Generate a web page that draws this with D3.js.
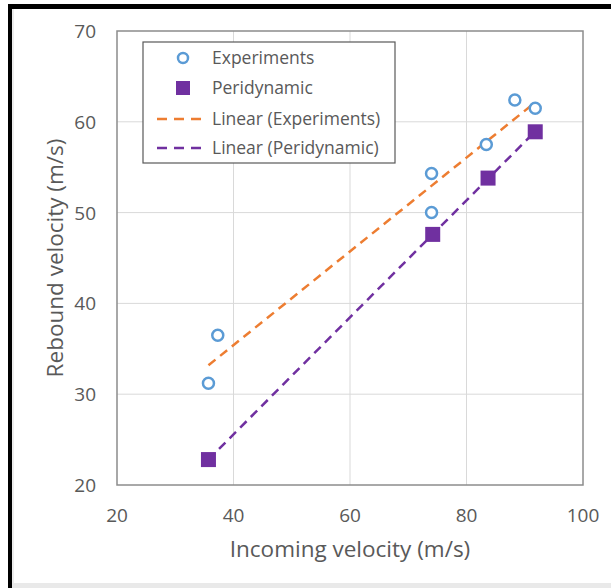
<!DOCTYPE html>
<meta charset="utf-8">
<style>
body {
  margin: 0;
  background: #fff;
}

svg text {
  font-family: 'Open Sans', sans-serif;
  fill: #595959;
}

.grid line {
  stroke: #d9d9d9;
  stroke-width: 1px;
}

.frame {
  fill: none;
  stroke: #8c8c8c;
  stroke-width: 1.5px;
}
</style>
<html>
  <body>
    <svg width="611" height="588"></svg>
  </body>
</html>
<script src="https://cdn.jsdelivr.net/npm/d3@7"></script>
<script>

// values
var expIncoming = [35.7, 37.3, 74.0, 74.0, 83.4, 88.3, 91.8];
var expRebound  = [31.2, 36.5, 54.3, 50.0, 57.5, 62.4, 61.5];
var periIncoming = [35.7, 74.2, 83.7, 91.8];
var periRebound  = [22.8, 47.6, 53.8, 58.9];
var xTicks = [20, 40, 60, 80, 100];
var yTicks = [20, 30, 40, 50, 60, 70];
var legendLabels = ["Experiments", "Peridynamic", "Linear (Experiments)", "Linear (Peridynamic)"];

(function() {
  var svg = d3.select("svg"),
      width = +svg.attr("width"),
      height = +svg.attr("height");

  // page frame from the screenshot
  svg.append("rect").attr("x", 0).attr("y", 0).attr("width", width).attr("height", height).attr("fill", "#fff");
  svg.append("rect").attr("x", 8).attr("y", 4).attr("width", width - 8).attr("height", 5).attr("fill", "#000");
  svg.append("rect").attr("x", 8).attr("y", 4).attr("width", 4).attr("height", height - 4).attr("fill", "#000");
  svg.append("rect").attr("x", 12).attr("y", 9).attr("width", 2).attr("height", height - 9).attr("fill", "#ececec");
  svg.append("rect").attr("x", 12).attr("y", height - 5).attr("width", width - 12).attr("height", 5).attr("fill", "#e9e9e9");

  var left = 117, right = 583, top = 31, bottom = 485;

  var x = d3.scaleLinear().domain([20, 100]).range([left, right]);
  var y = d3.scaleLinear().domain([20, 70]).range([bottom, top]);

  var grid = svg.append("g").attr("class", "grid");
  grid.selectAll("line.v")
    .data(xTicks.slice(1, -1))
    .enter().append("line")
      .attr("x1", function(d) { return x(d); })
      .attr("x2", function(d) { return x(d); })
      .attr("y1", top)
      .attr("y2", bottom);
  grid.selectAll("line.h")
    .data(yTicks.slice(1, -1))
    .enter().append("line")
      .attr("x1", left)
      .attr("x2", right)
      .attr("y1", function(d) { return y(d); })
      .attr("y2", function(d) { return y(d); });

  svg.append("rect")
      .attr("class", "frame")
      .attr("x", left)
      .attr("y", top)
      .attr("width", right - left)
      .attr("height", bottom - top);

  // tick labels
  svg.append("g").selectAll("text")
    .data(xTicks)
    .enter().append("text")
      .attr("x", function(d) { return x(d); })
      .attr("y", bottom + 37)
      .attr("text-anchor", "middle")
      .attr("font-size", 19)
      .text(function(d) { return d; });

  svg.append("g").selectAll("text")
    .data(yTicks)
    .enter().append("text")
      .attr("x", left - 21)
      .attr("y", function(d) { return y(d) + 7; })
      .attr("text-anchor", "end")
      .attr("font-size", 19)
      .text(function(d) { return d; });

  svg.append("text")
      .attr("x", (left + right) / 2)
      .attr("y", 557)
      .attr("text-anchor", "middle")
      .attr("font-size", 22.5)
      .text("Incoming velocity (m/s)");

  svg.append("text")
      .attr("transform", "translate(63," + (top + bottom) / 2 + ") rotate(-90)")
      .attr("text-anchor", "middle")
      .attr("font-size", 22.5)
      .text("Rebound velocity (m/s)");

  // least squares trendlines
  function fit(xs, ys) {
    var mx = d3.mean(xs), my = d3.mean(ys);
    var sxy = d3.sum(xs, function(v, i) { return (v - mx) * (ys[i] - my); });
    var sxx = d3.sum(xs, function(v) { return (v - mx) * (v - mx); });
    var b = sxy / sxx, a = my - b * mx;
    var x0 = d3.min(xs), x1 = d3.max(xs);
    return [[x0, a + b * x0], [x1, a + b * x1]];
  }

  var line = d3.line()
      .x(function(d) { return x(d[0]); })
      .y(function(d) { return y(d[1]); });

  svg.append("path")
      .datum(fit(expIncoming, expRebound))
      .attr("d", line)
      .attr("fill", "none")
      .attr("stroke", "#ed7d31")
      .attr("stroke-width", 2.5)
      .attr("stroke-dasharray", "9,6");

  svg.append("path")
      .datum(fit(periIncoming, periRebound))
      .attr("d", line)
      .attr("fill", "none")
      .attr("stroke", "#7030a0")
      .attr("stroke-width", 2.5)
      .attr("stroke-dasharray", "9,6");

  svg.append("g").selectAll("circle")
    .data(expIncoming)
    .enter().append("circle")
      .attr("cx", function(d) { return x(d); })
      .attr("cy", function(d, i) { return y(expRebound[i]); })
      .attr("r", 5.5)
      .attr("fill", "#fff")
      .attr("stroke", "#5b9bd5")
      .attr("stroke-width", 2.5);

  svg.append("g").selectAll("rect")
    .data(periIncoming)
    .enter().append("rect")
      .attr("x", function(d) { return x(d) - 7.5; })
      .attr("y", function(d, i) { return y(periRebound[i]) - 7.5; })
      .attr("width", 15)
      .attr("height", 15)
      .attr("fill", "#7030a0");

  // legend
  var legend = svg.append("g").attr("transform", "translate(143,42)");
  legend.append("rect")
      .attr("width", 252)
      .attr("height", 121)
      .attr("fill", "#fff")
      .attr("stroke", "#595959")
      .attr("stroke-width", 1.2);

  var rowY = [16, 46, 77, 106];
  var item = legend.selectAll("g")
    .data(legendLabels)
    .enter().append("g")
      .attr("transform", function(d, i) { return "translate(0," + rowY[i] + ")"; });

  item.append("text")
      .attr("x", 69)
      .attr("y", 6)
      .attr("font-size", 17.5)
      .text(function(d) { return d; });

  item.filter(function(d, i) { return i === 0; }).append("circle")
      .attr("cx", 40).attr("cy", 0).attr("r", 5)
      .attr("fill", "#fff").attr("stroke", "#5b9bd5").attr("stroke-width", 2.5);

  item.filter(function(d, i) { return i === 1; }).append("rect")
      .attr("x", 33).attr("y", -7).attr("width", 14).attr("height", 14)
      .attr("fill", "#7030a0");

  item.filter(function(d, i) { return i >= 2; }).append("line")
      .attr("x1", 14).attr("x2", 64).attr("y1", 0).attr("y2", 0)
      .attr("stroke", function(d, i) { return i === 0 ? "#ed7d31" : "#7030a0"; })
      .attr("stroke-width", 2.5)
      .attr("stroke-dasharray", "10,7");
})();

</script>
